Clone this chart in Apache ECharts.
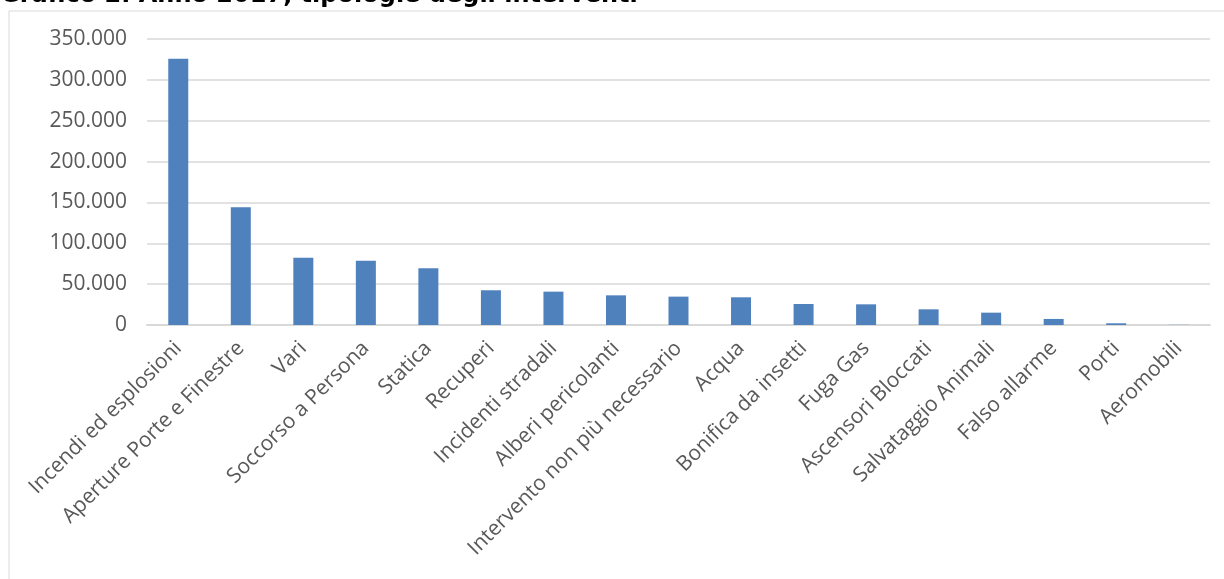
<!DOCTYPE html>
<html>
<head>
<meta charset="utf-8">
<script src="https://cdn.jsdelivr.net/npm/echarts@6/dist/echarts.min.js"></script>
<style>
  html, body { margin: 0; padding: 0; background: #ffffff; }
  #chart { width: 1224px; height: 579px; }
</style>
</head>
<body>
<div id="chart"></div>
<script>
// Interventi per tipologia, anno 2017
const categories = [
  'Incendi ed esplosioni', 'Aperture Porte e Finestre', 'Vari', 'Soccorso a Persona',
  'Statica', 'Recuperi', 'Incidenti stradali', 'Alberi pericolanti',
  'Intervento non più necessario', 'Acqua', 'Bonifica da insetti', 'Fuga Gas',
  'Ascensori Bloccati', 'Salvataggio Animali', 'Falso allarme', 'Porti', 'Aeromobili'
];
const interventi = [
  325900, 144000, 82400, 78700,
  69400, 42500, 40800, 36300,
  34700, 33900, 25700, 25300,
  19200, 15100, 7400, 2100, 200
];
const yTicks = { min: 0, max: 350000, step: 50000 };
const titleText = 'Grafico 2. Anno 2017, tipologie degli interventi';

const fmt = v => v === 0 ? '0' : String(v).replace(/\B(?=(\d{3})+(?!\d))/g, '.');

const chart = echarts.init(document.getElementById('chart'), null, { renderer: 'canvas' });
chart.setOption({
  animation: false,
  backgroundColor: '#ffffff',
  graphic: [
    {
      type: 'rect',
      shape: { x: 9, y: 11, width: 1400, height: 800 },
      style: { fill: 'none', stroke: '#d9d9d9', lineWidth: 1 },
      silent: true
    },
    {
      type: 'text',
      x: 0,
      y: -4,
      style: {
        text: titleText,
        font: 'bold 24px "DejaVu Sans"',
        fill: '#000000',
        align: 'left',
        verticalAlign: 'middle'
      }
    }
  ],
  grid: { left: 147, right: 14, top: 39, bottom: 254, containLabel: false },
  xAxis: {
    type: 'category',
    data: categories,
    axisLine: { show: true, lineStyle: { color: '#d9d9d9', width: 2 } },
    axisTick: { show: false },
    axisLabel: {
      interval: 0,
      rotate: 45,
      margin: 20,
      color: '#595959',
      fontFamily: 'Open Sans',
      fontSize: 21
    }
  },
  yAxis: {
    type: 'value',
    min: yTicks.min,
    max: yTicks.max,
    interval: yTicks.step,
    axisLine: { show: false },
    axisTick: { show: false },
    splitLine: { lineStyle: { color: '#d9d9d9', width: 1.5 } },
    axisLabel: {
      formatter: fmt,
      margin: 20,
      color: '#595959',
      fontFamily: 'Open Sans',
      fontSize: 21
    }
  },
  series: [{
    type: 'bar',
    data: interventi,
    barWidth: 20,
    itemStyle: { color: '#4f81bd' }
  }]
});
</script>
</body>
</html>
